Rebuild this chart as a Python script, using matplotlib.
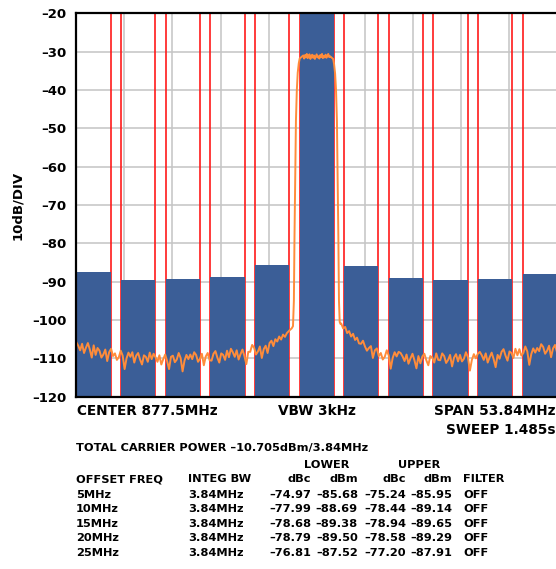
import matplotlib
matplotlib.use("Agg")
import matplotlib.pyplot as plt
import numpy as np

CHANNEL_OFFSETS = [-25, -20, -15, -10, -5, 0, 5, 10, 15, 20, 25]
CHANNEL_POWER = [-87.52, -89.50, -89.38, -88.69, -85.68, -10.705,
                 -85.95, -89.14, -89.65, -89.29, -87.91]
CHANNEL_BW = 3.84
SPAN = 53.84

LEFT_NOISE_RANGE = (-26.92, -3.33)
LEFT_NOISE = [
  -105.8, -106.7, -107.9, -106.2, -108.6, -107.2, -106.0, -107.7, -109.8, -106.6,
  -109.1, -107.3, -108.0, -109.8, -109.0, -107.7, -110.7, -108.4, -107.5, -109.4,
  -108.7, -110.4, -109.7, -108.0, -109.3, -112.8, -110.0, -108.5, -109.6, -108.4,
  -111.1, -109.3, -108.6, -110.3, -111.6, -109.2, -109.6, -110.9, -108.5, -110.2,
  -108.8, -109.7, -110.9, -109.2, -111.6, -110.2, -109.0, -110.7, -112.8, -109.6,
  -109.3, -111.0, -110.3, -108.6, -109.9, -113.4, -110.6, -109.1, -110.2, -109.0,
  -110.2, -108.4, -109.1, -110.9, -110.1, -108.8, -111.8, -109.5, -108.6, -110.5,
  -110.6, -108.8, -108.1, -109.8, -111.1, -108.7, -109.1, -110.4, -108.0, -109.7,
  -107.5, -108.4, -109.6, -107.9, -110.3, -108.9, -107.7, -109.4, -111.5, -108.3,
  -108.3, -106.5, -107.2, -109.0, -108.2, -106.9, -109.9, -107.6, -106.7, -108.6,
  -106.0, -105.4, -106.8, -105.0, -105.6, -104.3, -105.1, -103.8, -104.4, -103.4,
]
CARRIER_FREQ = [-3.0, -2.8, -2.65, -2.55, -2.48, -2.40, -2.32, -2.22, -2.12, -2.0, -1.9,
                -1.5, -1.4, -1.3, -1.2, -1.1, -1.0, -0.9, -0.8, -0.7, -0.6, -0.5,
                -0.4, -0.3, -0.2, -0.1, 0.0, 0.1, 0.2, 0.3, 0.4, 0.5, 0.6, 0.7,
                0.8, 0.9, 1.0, 1.1, 1.2, 1.3, 1.4, 1.5,
                1.85, 1.95, 2.07, 2.17, 2.27, 2.35, 2.43, 2.5, 2.58, 2.66]
CARRIER_DB = [-102.6, -102.2, -101.6, -95.0, -78.0, -62.0, -48.0, -40.0, -35.5, -33.0, -31.8,
              -31.0, -31.8, -30.9, -31.5, -30.6, -31.7, -31.1, -30.7, -31.9, -31.2, -30.8,
              -31.6, -31.0, -31.9, -31.3, -30.7, -31.5, -31.2, -31.8, -30.9, -31.4, -30.6,
              -31.7, -31.1, -31.5, -30.8, -31.6, -31.0, -30.6, -31.4, -31.2,
              -31.9, -33.2, -35.8, -40.0, -48.0, -62.0, -78.0, -95.0, -100.5, -101.0]
RIGHT_NOISE_RANGE = (2.75, 26.92)
RIGHT_NOISE = [
  -100.9, -102.2, -101.8, -103.4, -102.9, -104.3, -103.6, -105.2, -104.6, -106.1,
  -106.2, -105.4, -106.9, -108.0, -107.3, -106.8, -109.9, -107.9, -107.4, -109.4,
  -108.6, -110.3, -109.6, -107.9, -109.2, -112.7, -109.9, -108.4, -109.5, -108.3,
  -108.6, -109.5, -110.7, -109.0, -111.4, -110.0, -108.8, -110.5, -112.6, -109.4,
  -111.3, -109.5, -108.8, -110.5, -111.8, -109.4, -109.8, -111.1, -108.7, -110.4,
  -110.5, -108.7, -109.4, -111.2, -110.4, -109.1, -112.1, -109.8, -108.9, -110.8,
  -109.1, -110.8, -110.1, -108.4, -109.7, -113.2, -110.4, -108.9, -110.0, -108.8,
  -108.3, -109.2, -110.4, -108.7, -111.1, -109.7, -108.5, -110.2, -112.3, -109.1,
  -110.1, -108.3, -107.6, -109.3, -110.6, -108.2, -108.6, -109.9, -107.5, -109.2,
  -107.6, -109.3, -108.6, -106.9, -108.2, -111.7, -108.9, -107.4, -108.5, -107.3,
  -108.1, -106.3, -107.0, -108.8, -108.0, -106.7, -109.7, -107.4, -106.5, -108.4,
]

Y_TICKS = [-20, -30, -40, -50, -60, -70, -80, -90, -100, -110, -120]

OFFSET_LABELS = ["5MHz", "10MHz", "15MHz", "20MHz", "25MHz"]
INTEG_BW = ["3.84MHz"] * 5
LOWER_DBC = ["–74.97", "–77.99", "–78.68", "–78.79", "–76.81"]
LOWER_DBM = ["–85.68", "–88.69", "–89.38", "–89.50", "–87.52"]
UPPER_DBC = ["–75.24", "–78.44", "–78.94", "–78.58", "–77.20"]
UPPER_DBM = ["–85.95", "–89.14", "–89.65", "–89.29", "–87.91"]
FILTER = ["OFF"] * 5

BLUE = "#3b5e97"
ORANGE = "#ff8c3a"
W, H = 556, 569

plt.rcParams["font.family"] = "DejaVu Sans"
plt.rcParams["font.weight"] = "bold"

fig = plt.figure(figsize=(W / 100, H / 100), dpi=100)
left, right, top, bottom = 76.3, 557.0, 13.3, 396.7
ax = fig.add_axes([left / W, 1 - bottom / H, (right - left) / W, (bottom - top) / H])

half = SPAN / 2
ax.set_xlim(-half, half)
ax.set_ylim(-120, -20)

# grid: 10 divisions on both axes
ax.set_xticks(np.linspace(-half, half, 11))
ax.set_xticklabels([])
ax.set_yticks(Y_TICKS)
ax.set_yticklabels(["–%d" % abs(v) for v in Y_TICKS])
ax.grid(True, color="#c4c4c4", lw=1.1, zorder=0)
ax.set_axisbelow(True)
ax.tick_params(length=0, pad=7, labelsize=9.5)

# channel edges
for c in CHANNEL_OFFSETS:
  for e in (c - CHANNEL_BW / 2, c + CHANNEL_BW / 2):
    ax.axvline(e, color="#ff1a1a", lw=1.2, zorder=1)

# integrated channel power bars
ax.bar(CHANNEL_OFFSETS, [p + 121 for p in CHANNEL_POWER], bottom=-121,
       width=CHANNEL_BW, color=BLUE, zorder=2)

# trace
f = np.concatenate([np.linspace(*LEFT_NOISE_RANGE, len(LEFT_NOISE)),
                    CARRIER_FREQ,
                    np.linspace(*RIGHT_NOISE_RANGE, len(RIGHT_NOISE))])
db = np.concatenate([LEFT_NOISE, CARRIER_DB, RIGHT_NOISE])
ax.plot(f, db, color=ORANGE, lw=1.4, zorder=3)

for side in ("left", "top", "bottom"):
  ax.spines[side].set_linewidth(1.6)
  ax.spines[side].set_zorder(5)
ax.spines["right"].set_visible(False)


def ftext(x, y, s, **kw):
  fig.text(x / W, 1 - y / H, s, va="center", fontweight="bold", **kw)


ftext(18, 205, "10dB/DIV", rotation=90, ha="center", fontsize=9.5)

ftext(77, 411, "CENTER 877.5MHz", ha="left", fontsize=9.8)
ftext(316.5, 411, "VBW 3kHz", ha="center", fontsize=9.8)
ftext(555, 411, "SPAN 53.84MHz", ha="right", fontsize=9.8)
ftext(555, 430, "SWEEP 1.485s", ha="right", fontsize=9.8)

ts = 8.2
col_dbc_lo, col_dbm_lo, col_dbc_up, col_dbm_up = 311, 358, 406, 452
ftext(76, 448, "TOTAL CARRIER POWER –10.705dBm/3.84MHz", ha="left", fontsize=ts)
ftext(327, 465, "LOWER", ha="center", fontsize=ts)
ftext(419, 465, "UPPER", ha="center", fontsize=ts)
hdr_y = 479.5
ftext(76, hdr_y, "OFFSET FREQ", ha="left", fontsize=ts)
ftext(188, hdr_y, "INTEG BW", ha="left", fontsize=ts)
ftext(col_dbc_lo, hdr_y, "dBc", ha="right", fontsize=ts)
ftext(col_dbm_lo, hdr_y, "dBm", ha="right", fontsize=ts)
ftext(col_dbc_up, hdr_y, "dBc", ha="right", fontsize=ts)
ftext(col_dbm_up, hdr_y, "dBm", ha="right", fontsize=ts)
ftext(463, hdr_y, "FILTER", ha="left", fontsize=ts)

for i in range(len(OFFSET_LABELS)):
  y = 494.5 + i * 14.6
  ftext(76, y, OFFSET_LABELS[i], ha="left", fontsize=ts)
  ftext(188, y, INTEG_BW[i], ha="left", fontsize=ts)
  ftext(col_dbc_lo, y, LOWER_DBC[i], ha="right", fontsize=ts)
  ftext(col_dbm_lo, y, LOWER_DBM[i], ha="right", fontsize=ts)
  ftext(col_dbc_up, y, UPPER_DBC[i], ha="right", fontsize=ts)
  ftext(col_dbm_up, y, UPPER_DBM[i], ha="right", fontsize=ts)
  ftext(463, y, FILTER[i], ha="left", fontsize=ts)

fig.savefig("out.png", dpi=100)
